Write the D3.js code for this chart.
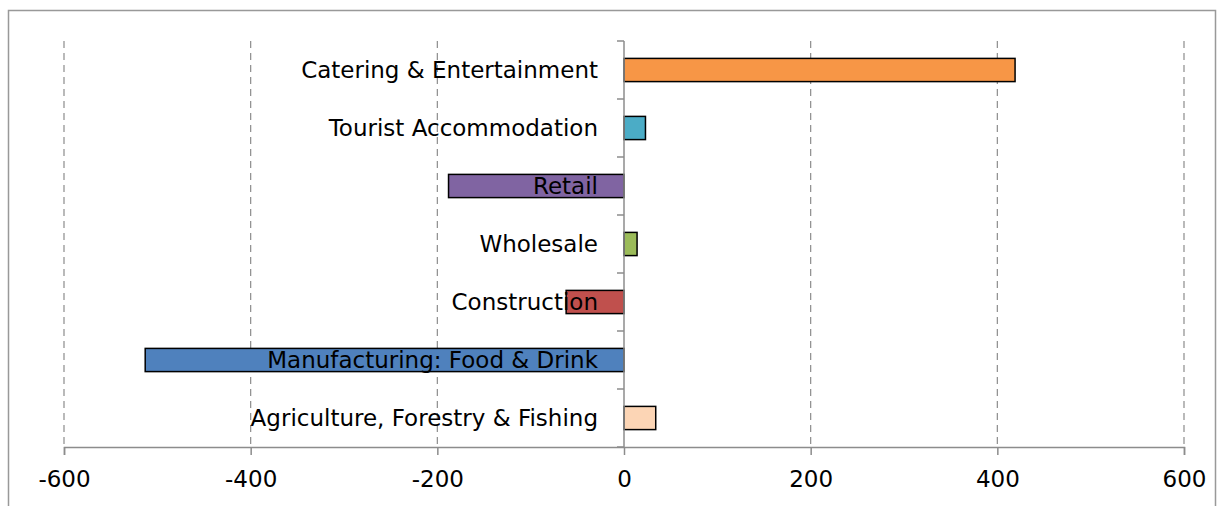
<!DOCTYPE html>
<html>
<head>
<meta charset="UTF-8" />
<script src="https://d3js.org/d3.v7.min.js"></script>
<style>
  body { margin: 0; background: #fff; font-family: "DejaVu Sans", sans-serif; }
</style>
</head>
<body>
<svg id="chart" width="1224" height="506"></svg>
<script>
  const categories = [
    "Catering & Entertainment",
    "Tourist Accommodation",
    "Retail",
    "Wholesale",
    "Construction",
    "Manufacturing: Food & Drink",
    "Agriculture, Forestry & Fishing",
  ];
  const values = [419, 23, -188, 14, -62, -513, 34];
  const colors = ["#f79646", "#4bacc6", "#8064a2", "#9bbb59", "#c0504d", "#4f81bd", "#fcd5b5"];
  const ticks = [-600, -400, -200, 0, 200, 400, 600];

  const svg = d3.select("#chart");
  const margin = { top: 41, left: 64, right: 40, bottom: 59 };
  const width = 1224 - margin.left - margin.right;
  const height = 506 - margin.top - margin.bottom;

  // outer frame
  svg.append("path")
    .attr("d", "M8.5,506 V10.5 H1215.5 V506")
    .attr("fill", "none").attr("stroke", "#999").attr("stroke-width", 1.5);

  const g = svg.append("g").attr("transform", `translate(${margin.left},${margin.top})`);
  const x = d3.scaleLinear().domain([-600, 600]).range([0, width]);
  const y = d3.scaleBand().domain(categories).range([0, height]).paddingInner(0.6).paddingOuter(0.3);

  // gridlines
  g.selectAll(".grid").data(ticks.filter(t => t !== 0)).enter().append("line")
    .attr("x1", d => x(d)).attr("x2", d => x(d))
    .attr("y1", 0).attr("y2", height)
    .attr("stroke", "#8c8c8c").attr("stroke-width", 1.2).attr("stroke-dasharray", "7,5");

  // x axis
  const xAxis = g.append("g").attr("transform", `translate(0,${height})`)
    .call(d3.axisBottom(x).tickValues(ticks).tickSize(8).tickPadding(16).tickFormat(d => String(d)));
  xAxis.select(".domain").attr("stroke", "#8c8c8c").attr("stroke-width", 1.5);
  xAxis.selectAll("line").attr("stroke", "#8c8c8c").attr("stroke-width", 1.5);
  xAxis.selectAll("text").attr("font-size", 23).attr("font-family", "DejaVu Sans").attr("fill", "#000");

  // bars
  g.selectAll(".bar").data(categories).enter().append("rect")
    .attr("x", (d, i) => x(Math.min(0, values[i])))
    .attr("width", (d, i) => Math.abs(x(values[i]) - x(0)))
    .attr("y", d => y(d))
    .attr("height", y.bandwidth())
    .attr("fill", (d, i) => colors[i])
    .attr("stroke", "#000").attr("stroke-width", 1.5);

  // zero axis with category ticks
  const step = height / categories.length;
  g.append("line").attr("x1", x(0)).attr("x2", x(0)).attr("y1", 0).attr("y2", height)
    .attr("stroke", "#8c8c8c").attr("stroke-width", 1.5);
  g.selectAll(".ctick").data(d3.range(categories.length + 1)).enter().append("line")
    .attr("x1", x(0) - 7).attr("x2", x(0))
    .attr("y1", i => i * step).attr("y2", i => i * step)
    .attr("stroke", "#8c8c8c").attr("stroke-width", 1.5);

  // category labels
  g.selectAll(".lab").data(categories).enter().append("text")
    .attr("x", x(0) - 26)
    .attr("y", d => y(d) + y.bandwidth() / 2)
    .attr("dy", "0.36em")
    .attr("text-anchor", "end")
    .attr("font-size", 23)
    .attr("font-family", "DejaVu Sans")
    .text(d => d);
</script>
</body>
</html>
